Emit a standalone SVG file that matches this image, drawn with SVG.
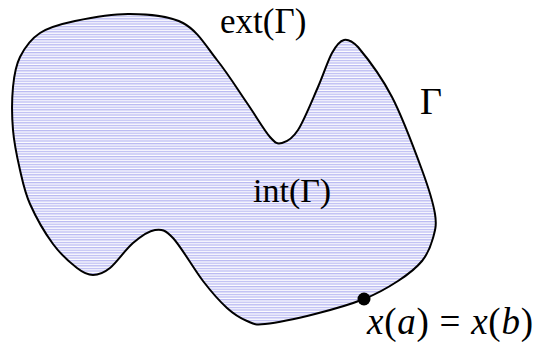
<svg xmlns="http://www.w3.org/2000/svg" width="535" height="342" viewBox="0 0 535 342">
<style>
.lbl{font-family:"Liberation Serif","Times New Roman",serif;fill:#000}
.it{font-style:italic}
</style>
<defs>
<pattern id="hatch" patternUnits="userSpaceOnUse" width="8" height="2.6">
<rect width="8" height="2.6" fill="#ffffff"/>
<rect y="0" width="8" height="1.3" fill="#b8b8f2"/>
</pattern>
</defs>
<g id="region">
<path d="M130,14 C148,14.33 168.5,15.33 183,23 C197.5,30.67 206.33,46.67 217,60 C227.67,73.33 238.17,90.17 247,103 C255.83,115.83 264.17,130.33 270,137 C275.83,143.67 277.33,144.17 282,143 C286.67,141.83 292,139.33 298,130 C304,120.67 312.33,99.83 318,87 C323.67,74.17 327.67,60.83 332,53 C336.33,45.17 339.67,41 344,40 C348.33,39 352,41 358,47 C366,56.5 381.33,76.5 392,97 C402.67,117.5 414.83,150.5 422,170 C429.17,189.5 433.17,202.67 435,214 C436.83,225.33 435.17,230.17 433,238 C430.83,245.83 427.830,253.83 422,261 C416.17,268.17 407.67,274.67 398,281 C388.33,287.33 377.83,293.5 364,299 C350.17,304.5 331.5,309.83 315,314 C298.5,318.17 276.33,322.83 265,324 C253.67,325.17 253.33,323.67 247,321 C240.67,318.33 234.33,314.67 227,308 C219.67,301.33 212,292.67 203,281 C194,269.33 181,246.5 173,238 C165,229.5 161.67,229.17 155,230 C148.33,230.83 140.5,236.67 133,243 C125.5,249.33 116.67,262.67 110,268 C103.33,273.33 98.5,275 93,275 C87.5,275 83.67,273.17 77,268 C70.33,262.83 60.83,254.67 53,244 C45.17,233.33 35.5,216.33 30,204 C24.5,191.67 22.83,182.33 20,170 C17.17,157.67 14.17,143.83 13,130 C11.83,116.17 11.83,99.17 13,87 C14.17,74.83 15.5,66 20,57 C24.5,48 30.83,39 40,33 C49.17,27 60,24.17 75,21 C90,17.83 112,13.67 130,14 Z" fill="url(#hatch)" stroke="#000" stroke-width="2"/>
</g>
<g id="point">
<circle cx="364" cy="299" r="6.5" fill="#000"/>
</g>
<g id="labels">
<text class="lbl" x="220" y="33" font-size="35">ext(Γ)</text>
<text class="lbl" x="420" y="114" font-size="38">Γ</text>
<text class="lbl" x="253" y="202" font-size="34">int(Γ)</text>
<text class="lbl" x="367" y="334" font-size="37" textLength="166" lengthAdjust="spacing"><tspan class="it">x</tspan>(<tspan class="it">a</tspan>) = <tspan class="it">x</tspan>(<tspan class="it">b</tspan>)</text>
</g>
</svg>
